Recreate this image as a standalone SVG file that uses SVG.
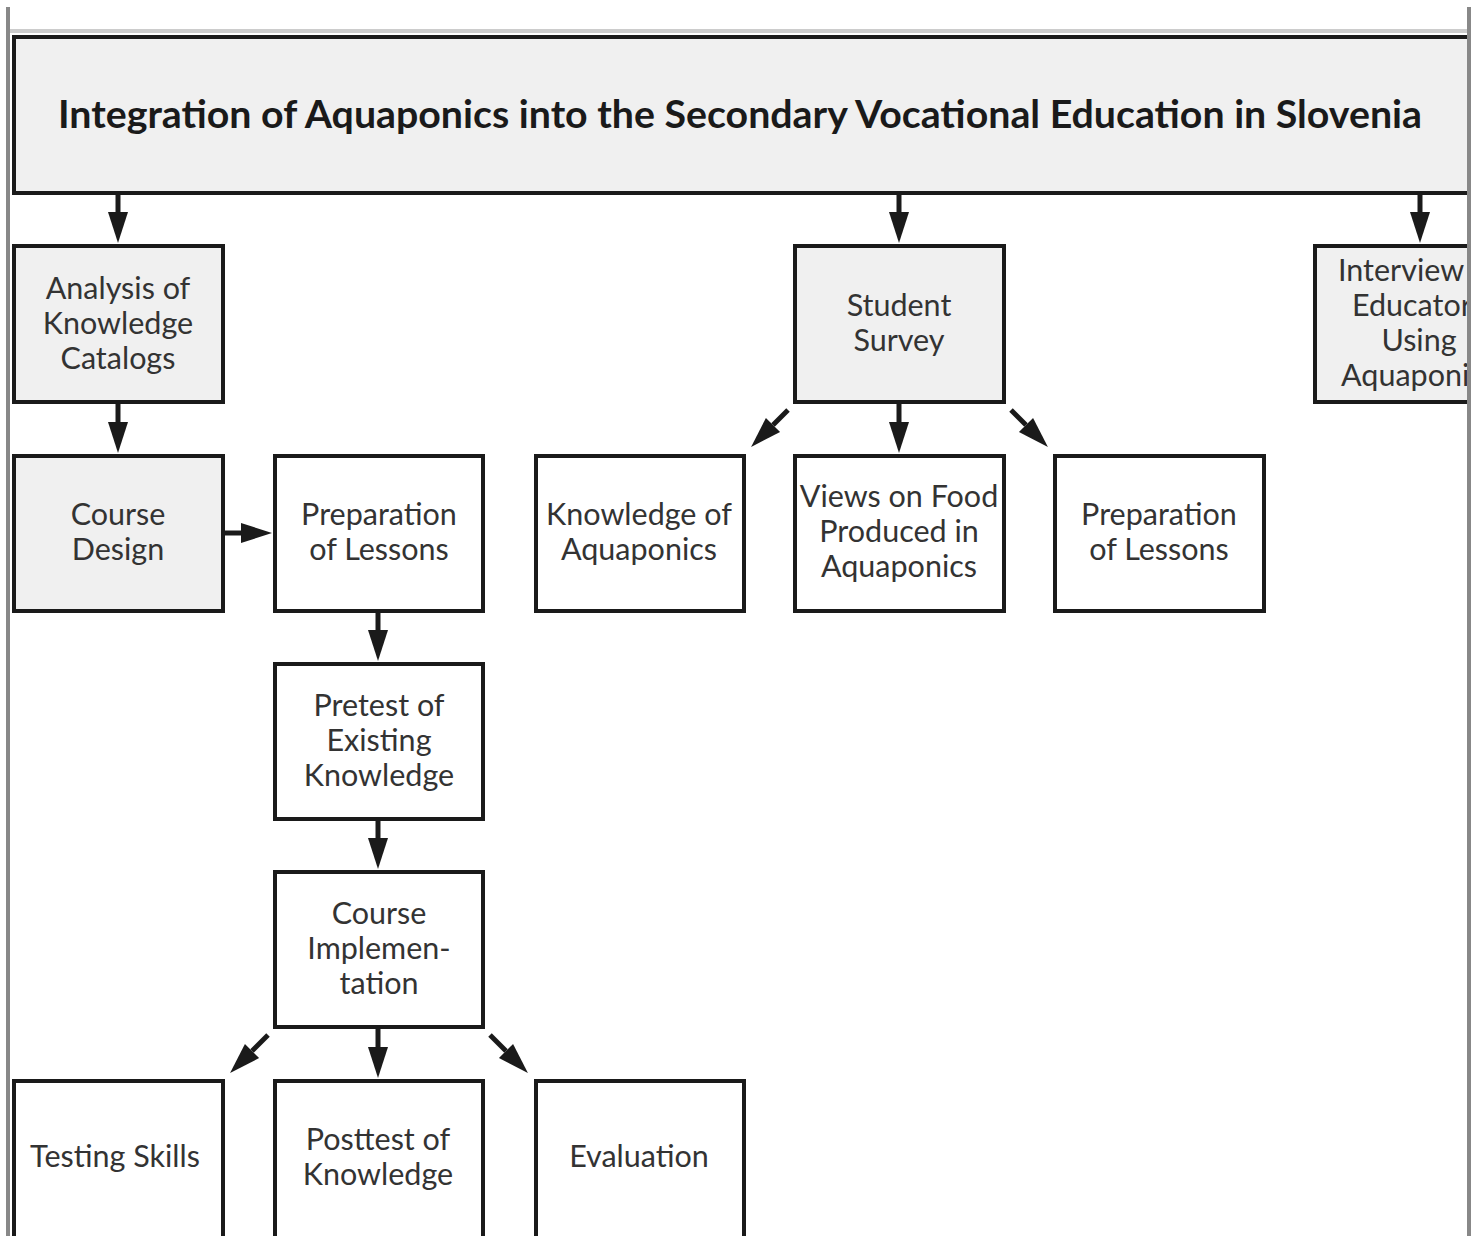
<svg xmlns="http://www.w3.org/2000/svg" width="1482" height="1236" viewBox="0 0 1482 1236">
<style>
.box{stroke:#1a1a1a;stroke-width:4;fill:#ffffff}
.gray{fill:#f0f0f0}
.t{font-family:Lato,"Liberation Sans",sans-serif;font-size:30.5px;fill:#333333;text-anchor:middle}
.title{font-family:Lato,"Liberation Sans",sans-serif;font-size:39px;font-weight:bold;fill:#1a1a1a;text-anchor:middle}
.c{stroke:#1a1a1a;stroke-width:5;fill:none;marker-end:url(#ah)}
</style>
<defs>
<marker id="ah" markerUnits="userSpaceOnUse" markerWidth="32" markerHeight="22" refX="0" refY="10" orient="auto" overflow="visible">
<path d="M0,0 L31,10 L0,20 Z" fill="#1a1a1a"/>
</marker>
<clipPath id="clip"><rect x="0" y="0" width="1467" height="1236"/></clipPath>
</defs>
<rect x="0" y="0" width="1482" height="1236" fill="#ffffff"/>
<line x1="10" y1="31" x2="1467" y2="31" stroke="#cccccc" stroke-width="4"/>

<g clip-path="url(#clip)">
<g id="main">
<rect class="box gray" x="14" y="37" width="1480" height="156"/>
<text class="title" x="740" y="128" textLength="1364" lengthAdjust="spacingAndGlyphs">Integration of Aquaponics into the Secondary Vocational Education in Slovenia</text>
</g>
<g id="analysis">
<rect class="box gray" x="14" y="246" width="209" height="156"/>
<text class="t" x="118" y="299">Analysis of</text>
<text class="t" x="118" y="334">Knowledge</text>
<text class="t" x="118" y="369">Catalogs</text>
</g>
<g id="survey">
<rect class="box gray" x="795" y="246" width="209" height="156"/>
<text class="t" x="899" y="316">Student</text>
<text class="t" x="899" y="351">Survey</text>
</g>
<g id="interview">
<rect class="box gray" x="1315" y="246" width="209" height="156"/>
<text class="t" x="1338" y="281" style="text-anchor:start">Interview</text>
<text class="t" x="1352" y="316" style="text-anchor:start">Educator</text>
<text class="t" x="1419" y="351">Using</text>
<text class="t" x="1341" y="386" style="text-anchor:start">Aquaponi</text>
</g>
</g>

<g id="coursedesign">
<rect class="box gray" x="14" y="456" width="209" height="155"/>
<text class="t" x="118" y="525">Course</text>
<text class="t" x="118" y="560">Design</text>
</g>
<g id="prep1">
<rect class="box" x="275" y="456" width="208" height="155"/>
<text class="t" x="379" y="525">Preparation</text>
<text class="t" x="379" y="560">of Lessons</text>
</g>
<g id="knowledge">
<rect class="box" x="536" y="456" width="208" height="155"/>
<text class="t" x="639" y="525">Knowledge of</text>
<text class="t" x="639" y="560">Aquaponics</text>
</g>
<g id="views">
<rect class="box" x="795" y="456" width="209" height="155"/>
<text class="t" x="899" y="507">Views on Food</text>
<text class="t" x="899" y="542">Produced in</text>
<text class="t" x="899" y="577">Aquaponics</text>
</g>
<g id="prep2">
<rect class="box" x="1055" y="456" width="209" height="155"/>
<text class="t" x="1159" y="525">Preparation</text>
<text class="t" x="1159" y="560">of Lessons</text>
</g>
<g id="pretest">
<rect class="box" x="275" y="664" width="208" height="155"/>
<text class="t" x="379" y="716">Pretest of</text>
<text class="t" x="379" y="751">Existing</text>
<text class="t" x="379" y="786">Knowledge</text>
</g>
<g id="implementation">
<rect class="box" x="275" y="872" width="208" height="155"/>
<text class="t" x="379" y="924">Course</text>
<text class="t" x="379" y="959">Implemen-</text>
<text class="t" x="379" y="994">tation</text>
</g>
<g id="testing">
<rect class="box" x="14" y="1081" width="209" height="170"/>
<text class="t" x="115" y="1167">Testing Skills</text>
</g>
<g id="posttest">
<rect class="box" x="275" y="1081" width="208" height="170"/>
<text class="t" x="378" y="1150">Posttest of</text>
<text class="t" x="378" y="1185">Knowledge</text>
</g>
<g id="evaluation">
<rect class="box" x="536" y="1081" width="208" height="170"/>
<text class="t" x="639" y="1167">Evaluation</text>
</g>

<g id="connectors">
<line class="c" x1="118" y1="195" x2="118" y2="212"/>
<line class="c" x1="899" y1="195" x2="899" y2="212"/>
<line class="c" x1="1420" y1="195" x2="1420" y2="212"/>
<line class="c" x1="118" y1="404" x2="118" y2="422"/>
<line class="c" x1="899" y1="404" x2="899" y2="422"/>
<line class="c" x1="788" y1="410" x2="773" y2="425"/>
<line class="c" x1="1011" y1="410" x2="1026" y2="425"/>
<line class="c" x1="224" y1="533" x2="241" y2="533"/>
<line class="c" x1="378" y1="612" x2="378" y2="630"/>
<line class="c" x1="378" y1="821" x2="378" y2="838"/>
<line class="c" x1="378" y1="1029" x2="378" y2="1047"/>
<line class="c" x1="268" y1="1035" x2="252" y2="1051"/>
<line class="c" x1="490" y1="1035" x2="506" y2="1051"/>
</g>

<line x1="8" y1="7" x2="8" y2="1236" stroke="#888888" stroke-width="4"/>
<line x1="1469" y1="7" x2="1469" y2="1236" stroke="#888888" stroke-width="4"/>
</svg>
